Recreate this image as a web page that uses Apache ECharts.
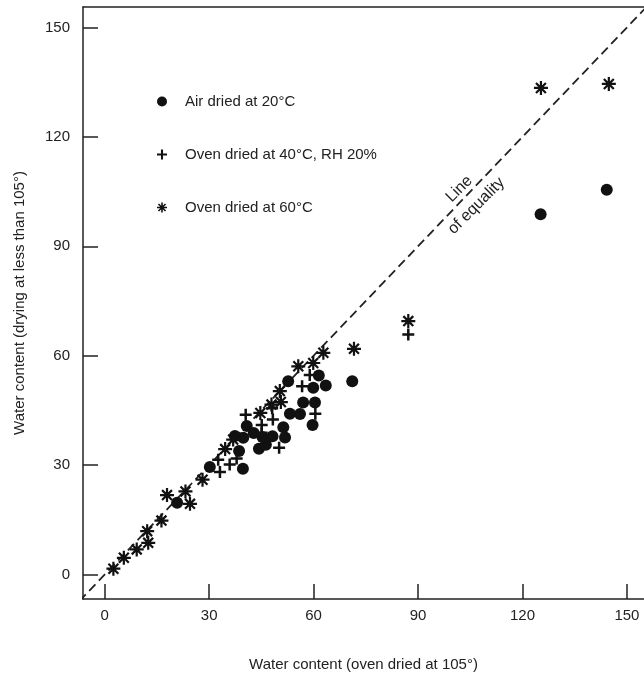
<!DOCTYPE html>
<html><head><meta charset="utf-8">
<script src="https://cdn.jsdelivr.net/npm/echarts@6/dist/echarts.min.js"></script>
<style>html,body{margin:0;padding:0;background:#fff}#c{width:644px;height:677px}</style>
</head><body><div id="c"></div>
<script>
// ---- data ----
const seriesNames = ['Air dried at 20°C', 'Oven dried at 40°C, RH 20%', 'Oven dried at 60°C'];
const airDried = [[20.8,19.7],[30.2,29.5],[39.7,29.0],[38.6,33.9],[44.3,34.5],[46.3,35.6],[39.8,37.5],[37.4,38.0],[40.8,40.7],[42.8,38.8],[45.3,37.7],[48.2,37.9],[51.3,40.4],[51.8,37.6],[53.2,44.1],[56.1,44.0],[59.7,41.0],[57.0,47.2],[60.4,47.2],[52.7,53.0],[59.9,51.2],[63.5,51.8],[61.5,54.6],[71.1,53.0],[125.2,98.8],[144.2,105.5]];
const oven40 = [[33.1,28.1],[35.9,30.2],[32.6,31.5],[37.9,31.8],[40.5,43.8],[45.1,41.0],[45.1,38.9],[48.3,42.5],[48.1,45.6],[50.1,34.8],[56.7,51.6],[58.9,54.7],[60.5,44.1],[87.2,65.8]];
const oven60 = [[2.5,1.6],[5.5,4.6],[9.2,6.9],[12.5,8.7],[12.2,11.9],[16.3,14.8],[17.9,21.8],[23.2,22.8],[24.5,19.4],[28.1,26.0],[34.6,34.4],[36.9,37.0],[44.7,44.3],[47.9,46.6],[50.3,50.3],[50.6,47.3],[55.6,57.1],[59.9,58.0],[62.8,60.8],[71.6,61.9],[87.2,69.5],[125.3,133.4],[144.8,134.5]];
const equalityLine = [[-10,-10],[160,160]];
const equalityLabel = [[104.3,103.4]];
const xTicks = [0,30,60,90,120,150];
const yTicks = [0,30,60,90,120,150];
const xTitle = 'Water content (oven dried at 105°)';
const yTitle = 'Water content (drying at less than 105°)';
const lineLabelText = 'Line\nof equality';

// ---- marker shapes ----
const plusPath = 'path://M-1.25,-6L1.25,-6L1.25,-1.25L6,-1.25L6,1.25L1.25,1.25L1.25,6L-1.25,6L-1.25,1.25L-6,1.25L-6,-1.25L-1.25,-1.25Z';
function starPath(){
  let d = '';
  const L = 6, w = 0.95;
  [0,45,90,135].forEach(function(a){
    const r = a*Math.PI/180, c = Math.cos(r), s = Math.sin(r);
    const pts = [[-L,-w],[L,-w],[L,w],[-L,w]].map(function(p){
      return [(p[0]*c - p[1]*s).toFixed(3), (p[0]*s + p[1]*c).toFixed(3)];
    });
    d += 'M' + pts.map(function(p){return p[0]+','+p[1];}).join('L') + 'Z';
  });
  return 'path://' + d;
}
const starSym = starPath();

const txt = '#222';
const mk = '#111';
const xMin = -6.23, xMax = 154.9;
const chart = echarts.init(document.getElementById('c'), null, {renderer:'canvas'});
chart.setOption({
  animation: false,
  backgroundColor: '#fff',
  textStyle: {fontFamily: 'Liberation Sans, Arial, sans-serif'},
  grid: {left: 83, top: 7, right: 0, bottom: 78, show: false, containLabel: false},
  legend: {
    orient: 'vertical', left: 152, top: 89, itemWidth: 30, itemHeight: 10, itemGap: 38,
    textStyle: {fontSize: 15, color: txt, padding: [0,0,0,3]},
    data: [
      {name: seriesNames[0], icon: 'circle'},
      {name: seriesNames[1], icon: plusPath},
      {name: seriesNames[2], icon: starSym}
    ],
    selectedMode: false
  },
  xAxis: [{
    type: 'value', min: xMin, max: xMax, position: 'bottom',
    name: xTitle, nameLocation: 'middle', nameGap: 58,
    nameTextStyle: {fontSize: 15, color: txt},
    axisLine: {show: true, onZero: false, lineStyle: {color: txt, width: 1.5}},
    axisTick: {show: true, inside: true, length: 15, lineStyle: {color: txt, width: 1.5}, customValues: xTicks},
    axisLabel: {fontSize: 15, color: txt, margin: 9, customValues: xTicks},
    splitLine: {show: false}
  }, {
    type: 'value', min: xMin, max: xMax, position: 'top',
    axisLine: {show: true, onZero: false, lineStyle: {color: txt, width: 1.5}},
    axisTick: {show: false}, axisLabel: {show: false}, splitLine: {show: false}
  }],
  yAxis: {
    type: 'value', min: -6.7, max: 155.6,
    name: yTitle, nameLocation: 'middle', nameGap: 56,
    nameTextStyle: {fontSize: 15, color: txt},
    axisLine: {show: true, onZero: false, lineStyle: {color: txt, width: 1.5}},
    axisTick: {show: true, inside: true, length: 15, lineStyle: {color: txt, width: 1.5}, customValues: yTicks},
    axisLabel: {fontSize: 15, color: txt, margin: 13, customValues: yTicks},
    splitLine: {show: false}
  },
  series: [
    {
      name: 'equality', type: 'line', data: equalityLine, symbol: 'none', silent: true,
      lineStyle: {color: txt, width: 1.8, type: [9,5]}, clip: true, z: 1
    },
    {
      name: 'equalityLabel', type: 'scatter', data: equalityLabel, symbolSize: 1, silent: true,
      itemStyle: {color: 'transparent', opacity: 1},
      label: {show: true, position: 'inside', formatter: lineLabelText, rotate: 45, fontSize: 16, color: txt, opacity: 1,
              textBorderWidth: 0, textBorderColor: 'transparent', lineHeight: 24, align: 'center', verticalAlign: 'middle'},
      z: 2
    },
    {name: seriesNames[0], type: 'scatter', data: airDried, symbol: 'circle', symbolSize: 12, itemStyle: {color: mk, opacity: 1}, z: 3},
    {name: seriesNames[1], type: 'scatter', data: oven40, symbol: plusPath, symbolSize: 12, itemStyle: {color: mk, opacity: 1}, z: 4},
    {name: seriesNames[2], type: 'scatter', data: oven60, symbol: starSym, symbolSize: 14, itemStyle: {color: mk, opacity: 1}, z: 5}
  ]
});
</script>
</body></html>
